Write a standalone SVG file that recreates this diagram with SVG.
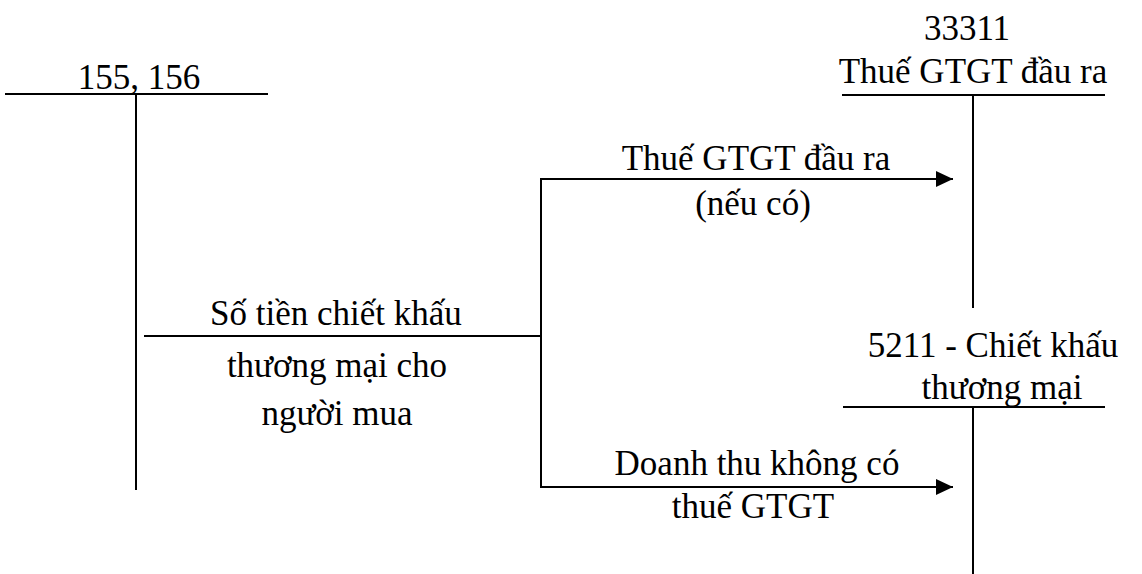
<svg xmlns="http://www.w3.org/2000/svg" width="1142" height="574" viewBox="0 0 1142 574">
<style>
text{font-family:"Liberation Serif","Times New Roman",serif;font-size:35px;fill:#000;text-anchor:middle}
.ln{stroke:#000;stroke-width:2;fill:none}
</style>
<defs>
<marker id="ah" markerUnits="userSpaceOnUse" markerWidth="18" markerHeight="18" viewBox="0 0 18 18" refX="17" refY="9" orient="auto">
<polygon points="0,1 17,9 0,17" fill="#000"/>
</marker>
</defs>
<rect width="1142" height="574" fill="#fff"/>
<g id="acc155">
<line class="ln" x1="5" y1="94" x2="268" y2="94"/>
<line class="ln" x1="136" y1="94" x2="136" y2="490"/>
<text x="139" y="89">155, 156</text>
</g>
<g id="acc33311">
<text x="967" y="40">33311</text>
<text x="973" y="83">Thuế GTGT đầu ra</text>
<line class="ln" x1="842" y1="95" x2="1105" y2="95"/>
<line class="ln" x1="973" y1="95" x2="973" y2="308"/>
</g>
<g id="acc5211">
<text x="993" y="357">5211 - Chiết khấu</text>
<text x="1002" y="399">thương mại</text>
<line class="ln" x1="843" y1="407" x2="1105" y2="407"/>
<line class="ln" x1="973" y1="407" x2="973" y2="574"/>
</g>
<g id="connectors">
<polyline class="ln" points="144,336 541,336"/>
<line class="ln" x1="541" y1="179" x2="541" y2="487"/>
<line class="ln" x1="540" y1="179" x2="953" y2="179" marker-end="url(#ah)"/>
<line class="ln" x1="540" y1="487" x2="953" y2="487" marker-end="url(#ah)"/>
<text x="336" y="325">Số tiền chiết khấu</text>
<text x="337" y="377">thương mại cho</text>
<text x="337" y="425">người mua</text>
<text x="756" y="170">Thuế GTGT đầu ra</text>
<text x="753" y="215">(nếu có)</text>
<text x="757" y="475">Doanh thu không có</text>
<text x="753" y="518">thuế GTGT</text>
</g>
</svg>
